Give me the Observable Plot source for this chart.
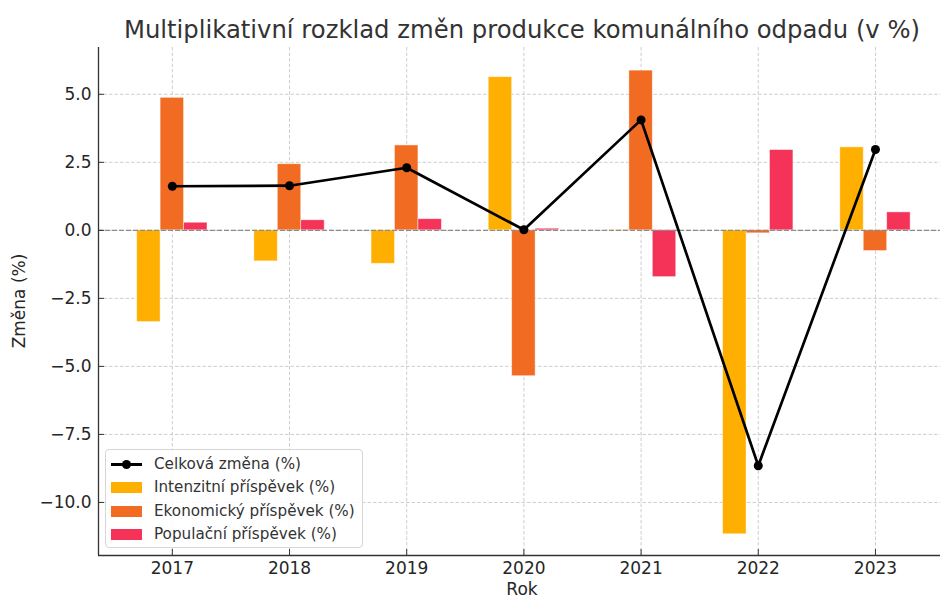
<!DOCTYPE html>
<html><head><meta charset="utf-8">
<script src="https://cdn.jsdelivr.net/npm/d3@7"></script>
<script src="https://cdn.jsdelivr.net/npm/@observablehq/plot@0.6"></script>
<style>
body{margin:0;background:#fff;overflow:hidden;font-family:"DejaVu Sans",sans-serif;}
#wrap{position:relative;width:940px;height:599px;}
#wrap svg{position:absolute;left:0;top:0;}
.title{position:absolute;left:522px;top:15px;transform:translateX(-50%);white-space:nowrap;font-size:24.3px;line-height:30px;color:#333;}
.ylab{position:absolute;left:19px;top:301px;transform:translate(-50%,-50%) rotate(-90deg);white-space:nowrap;font-size:17px;color:#262626;}
.xlab{position:absolute;left:522px;top:583px;transform:translateX(-50%);white-space:nowrap;font-size:17px;color:#262626;line-height:13px;}
.legend{position:absolute;left:105px;top:449px;width:256px;height:97px;border:1px solid #d6d6d6;border-radius:4px;background:rgba(255,255,255,0.85);box-sizing:content-box;}
.row{position:absolute;left:5px;height:20px;display:flex;align-items:center;font-size:15.2px;color:#333;white-space:nowrap;}
.sw{width:31px;height:11px;margin-right:12px;flex:none;}
.ln{width:31px;height:20px;margin-right:12px;flex:none;position:relative;}
.ln:before{content:"";position:absolute;left:0;right:0;top:9px;height:2.6px;background:#000;}
.ln:after{content:"";position:absolute;left:11px;top:5.5px;width:9px;height:9px;border-radius:50%;background:#000;}
</style></head><body><div id="wrap"></div>
<script>
const years = [2017, 2018, 2019, 2020, 2021, 2022, 2023];
const intenzitni = [-3.37, -1.14, -1.23, 5.63, 0.02, -11.17, 3.05];
const ekonomicky = [4.87, 2.43, 3.12, -5.36, 5.87, -0.11, -0.76];
const populacni = [0.28, 0.37, 0.41, 0.06, -1.72, 2.95, 0.66];
const celkova = [1.62, 1.64, 2.30, 0.02, 4.06, -8.65, 2.97];
const yTicks = [-10, -7.5, -5, -2.5, 0, 2.5, 5];
const seriesLabels = ["Celková změna (%)", "Intenzitní příspěvek (%)", "Ekonomický příspěvek (%)", "Populační příspěvek (%)"];
const seriesColors = ["#000000", "#FFAF00", "#F26B22", "#F53358"];
const titleText = "Multiplikativní rozklad změn produkce komunálního odpadu (v %)";
const xLabel = "Rok";
const yLabel = "Změna (%)";

const xDomain = [2016.37, 2023.555];
const yDomain = [-11.95, 6.72];
const barW = 0.2;

function bars(values, offset, color) {
  const data = years.map((y, i) => ({year: y, v: values[i]}));
  return Plot.rectY(data, {
    x1: d => d.year + offset - barW / 2,
    x2: d => d.year + offset + barW / 2,
    y1: 0, y2: "v",
    fill: color, stroke: "#ffffff", strokeOpacity: 0.55, strokeWidth: 0.8
  });
}

const totals = years.map((y, i) => ({year: y, v: celkova[i]}));

const plot = Plot.plot({
  width: 940, height: 599,
  marginLeft: 98, marginRight: 0, marginTop: 47, marginBottom: 44,
  style: {fontFamily: "'DejaVu Sans', sans-serif", background: "transparent", color: "#262626"},
  x: {type: "linear", domain: xDomain},
  y: {type: "linear", domain: yDomain},
  marks: [
    Plot.ruleX(years, {x: d => d, stroke: "#c8c8c8", strokeWidth: 0.9, strokeDasharray: "3.5,2"}),
    Plot.ruleY(yTicks, {y: d => d, stroke: "#c8c8c8", strokeWidth: 0.9, strokeDasharray: "3.5,2"}),
    bars(intenzitni, -0.2, seriesColors[1]),
    bars(ekonomicky, 0, seriesColors[2]),
    bars(populacni, 0.2, seriesColors[3]),
    Plot.ruleY([0], {stroke: "#8c8c8c", strokeWidth: 1.2, strokeDasharray: "5,2"}),
    Plot.line(totals, {x: "year", y: "v", stroke: "#000", strokeWidth: 2.7}),
    Plot.dot(totals, {x: "year", y: "v", r: 4.5, fill: "#000"}),
    Plot.ruleX([xDomain[0]], {stroke: "#333", strokeWidth: 1.3}),
    Plot.ruleY([yDomain[0]], {stroke: "#333", strokeWidth: 1.3}),
    Plot.ruleX(years, {x: d => d, insetTop: 502, stroke: "#333", strokeWidth: 1}),
    Plot.ruleY(yTicks, {y: d => d, insetRight: 836, stroke: "#333", strokeWidth: 1}),
    Plot.axisX({ticks: years, tickFormat: d => String(d), tickSize: 0, tickPadding: 6.5, fontSize: 17, label: null}),
    Plot.axisY({ticks: yTicks, tickFormat: d3.format(".1f"), tickSize: 0, tickPadding: 7, fontSize: 17, label: null})
  ]
});

const wrap = document.getElementById("wrap");
wrap.appendChild(plot);

const t = document.createElement("div"); t.className = "title"; t.textContent = titleText; wrap.appendChild(t);
const yl = document.createElement("div"); yl.className = "ylab"; yl.textContent = yLabel; wrap.appendChild(yl);
const xl = document.createElement("div"); xl.className = "xlab"; xl.textContent = xLabel; wrap.appendChild(xl);

const lg = document.createElement("div"); lg.className = "legend";
const rowTops = [4, 27, 51, 74];
seriesLabels.forEach((lab, i) => {
  const r = document.createElement("div"); r.className = "row"; r.style.top = rowTops[i] + "px";
  const s = document.createElement("div");
  if (i === 0) { s.className = "ln"; } else { s.className = "sw"; s.style.background = seriesColors[i]; }
  r.appendChild(s);
  const tx = document.createElement("span"); tx.textContent = lab; r.appendChild(tx);
  lg.appendChild(r);
});
wrap.appendChild(lg);
</script></body></html>
